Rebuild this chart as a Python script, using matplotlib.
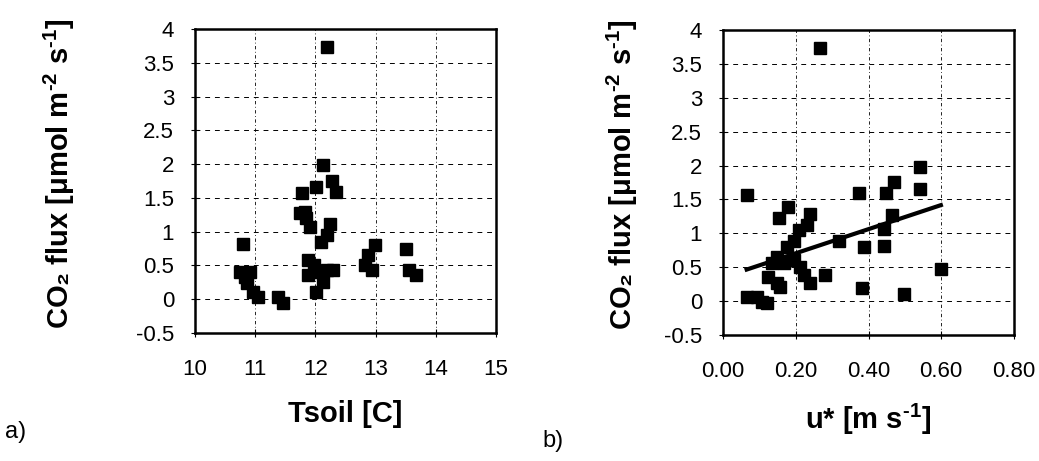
import matplotlib.pyplot as plt
import numpy as np

plt.rcParams['font.family'] = ['Liberation Sans', 'DejaVu Sans']
plt.rcParams['mathtext.fontset'] = 'custom'
plt.rcParams['mathtext.rm'] = 'Liberation Sans'
plt.rcParams['mathtext.bf'] = 'Liberation Sans:bold'
plt.rcParams['mathtext.default'] = 'bf'

# a) soil temperature vs CO2 flux
tsoil = [12.19, 12.13, 12.28, 12.34, 12.01, 11.77, 11.83, 11.85, 11.91, 12.24,
         12.09, 12.19, 10.80, 11.88, 11.88, 12.19, 12.13, 12.01, 12.29, 11.97,
         10.75, 10.91, 10.86, 10.97, 11.05, 10.83, 11.38, 11.46, 12.99, 12.88,
         12.82, 12.94, 13.51, 13.56, 13.67, 11.74, 12.05]
flux_a = [3.74, 1.98, 1.75, 1.59, 1.66, 1.57, 1.29, 1.20, 1.07, 1.12,
          0.85, 0.95, 0.81, 0.58, 0.36, 0.43, 0.26, 0.10, 0.43, 0.50,
          0.41, 0.41, 0.24, 0.11, 0.04, 0.33, 0.04, -0.06, 0.80, 0.65,
          0.51, 0.43, 0.74, 0.43, 0.36, 1.27, 0.40]

# b) friction velocity vs CO2 flux
ustar = [0.268, 0.065, 0.373, 0.180, 0.153, 0.240, 0.231, 0.208, 0.194, 0.176,
         0.149, 0.134, 0.167, 0.194, 0.212, 0.222, 0.240, 0.281, 0.125, 0.149,
         0.065, 0.093, 0.120, 0.107, 0.157, 0.318, 0.383, 0.387, 0.542, 0.542,
         0.470, 0.447, 0.465, 0.442, 0.442, 0.498, 0.599]
flux_b = [3.74, 1.56, 1.59, 1.39, 1.22, 1.29, 1.12, 1.05, 0.88, 0.80,
          0.65, 0.56, 0.56, 0.61, 0.51, 0.38, 0.26, 0.38, 0.36, 0.26,
          0.06, 0.06, -0.03, -0.01, 0.21, 0.88, 0.19, 0.80, 1.98, 1.66,
          1.76, 1.59, 1.27, 1.07, 0.81, 0.10, 0.48]

# linear fit drawn in panel b
fit_slope = 1.78
fit_intercept = 0.35

yticks = [-0.5, 0, 0.5, 1, 1.5, 2, 2.5, 3, 3.5, 4]
ylabel = 'CO\u2082 flux [\u03bcmol m$^{\u20102}$ s$^{\u20101}$]'

fig = plt.figure(figsize=(10.39, 4.61), dpi=100)
ax1 = fig.add_axes([0.1877, 0.2777, 0.2897, 0.6594])
ax2 = fig.add_axes([0.6959, 0.2733, 0.2800, 0.6616])


def style(ax):
    ax.set_ylim(-0.5, 4)
    ax.set_yticks(yticks)
    ax.set_yticklabels([f'{t:g}' for t in yticks])
    for s in ax.spines.values():
        s.set_linewidth(1.8)
        s.set_color('black')
    ax.yaxis.grid(True, color='black', lw=0.7, linestyle=(0, (5, 5)))
    ax.xaxis.grid(True, color='black', lw=0.6, linestyle=(0, (4, 3, 1, 3)))
    ax.tick_params(direction='inout', length=6, width=0.8, labelsize=16)
    ax.tick_params(axis='y', pad=12)
    ax.tick_params(axis='x', pad=16)
    ax.set_axisbelow(True)


style(ax1)
ax1.plot(tsoil, flux_a, 's', color='black', markersize=9, zorder=3)
ax1.set_xlim(10, 15)
ax1.set_xticks([10, 11, 12, 13, 14, 15])
ax1.set_xlabel('Tsoil [C]', fontsize=21, fontweight='bold')
ax1.set_ylabel(ylabel, fontsize=21, fontweight='bold', va='center')
ax1.xaxis.set_label_coords(0.5, -0.22)
ax1.yaxis.set_label_coords(-0.45, 0.525)

style(ax2)
ax2.plot(ustar, flux_b, 's', color='black', markersize=9, zorder=3)
xf = np.array([min(ustar), max(ustar)])
ax2.plot(xf, fit_slope * xf + fit_intercept, color='black', lw=3, zorder=4)
ax2.set_xlim(0, 0.8)
ax2.set_xticks([0, 0.2, 0.4, 0.6, 0.8])
ax2.set_xticklabels(['0.00', '0.20', '0.40', '0.60', '0.80'])
ax2.set_xlabel('u* [m s$^{\u20101}$]', fontsize=21, fontweight='bold')
ax2.set_ylabel(ylabel, fontsize=21, fontweight='bold', va='center')
ax2.xaxis.set_label_coords(0.5, -0.22)
ax2.yaxis.set_label_coords(-0.345, 0.525)

fig.text(0.005, 0.05, 'a)', fontsize=17)
fig.text(0.522, 0.03, 'b)', fontsize=17)

fig.savefig('out.png', dpi=100)
